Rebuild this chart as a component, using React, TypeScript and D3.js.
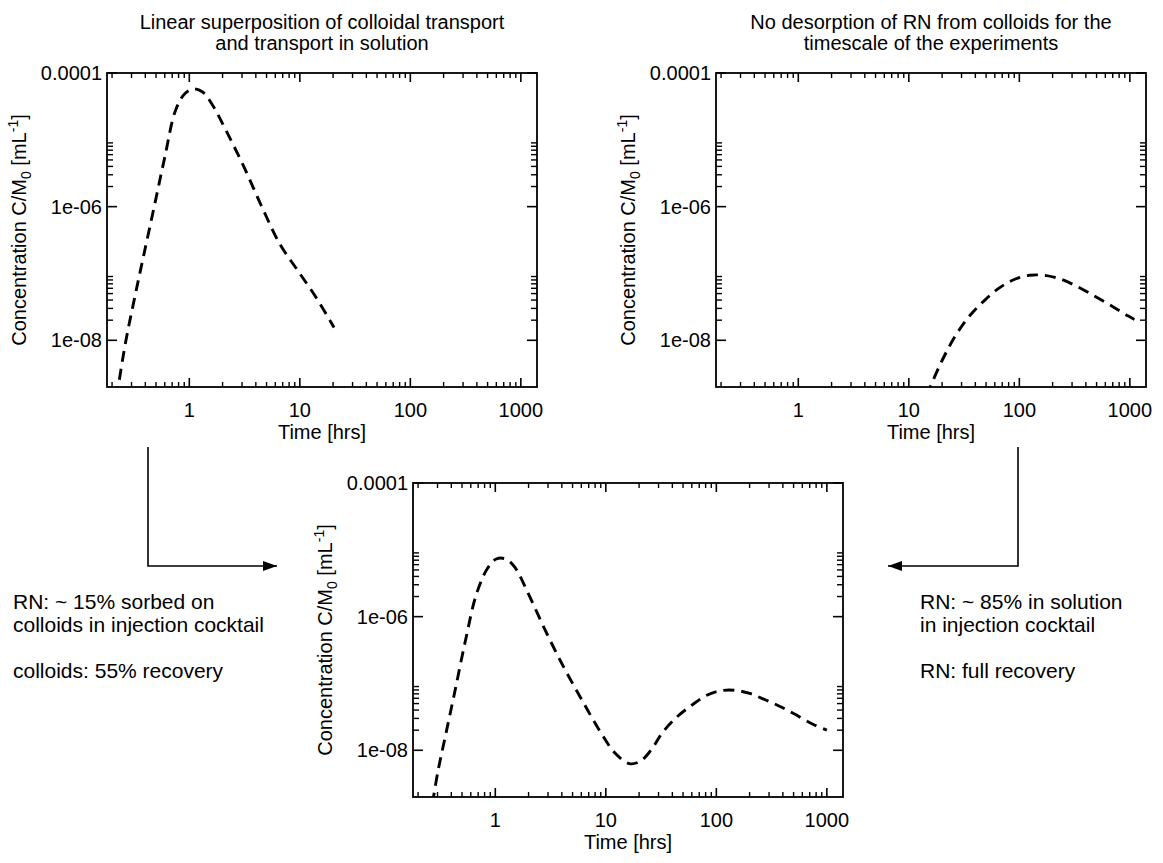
import React from "react";
import * as d3 from "d3";

// ---------- data ----------
const xMajorTicks = [1, 10, 100, 1000];
const xTickLabels = ["1", "10", "100", "1000"];
const yMajorTicks = [1e-4, 1e-6, 1e-8];
const yTickLabels = ["0.0001", "1e-06", "1e-08"];
const minorMultipliers = [2, 3, 4, 5, 6, 7, 8, 9];
const xMinorBases = [0.1, 1, 10, 100];
const yMinorBases = [1e-8, 1e-6];

// colloidal transport (top-left)
const colloidTime = [0.22, 0.263, 0.318, 0.383, 0.48, 0.6, 0.75, 0.91, 1.09, 1.32, 1.59, 2.15, 3.13, 4.55, 6.6, 9.6, 14, 20.4];
const colloidConc = [1.4e-9, 8.7e-9, 4.1e-8, 1.74e-7, 9.8e-7, 5.5e-6, 2.75e-5, 4.9e-5, 5.8e-5, 5.2e-5, 3.5e-5, 1.38e-5, 3.9e-6, 9.8e-7, 2.75e-7, 1.1e-7, 4.4e-8, 1.55e-8];

// transport in solution (top-right)
const solutionTime = [14.5, 19.9, 26.9, 36.5, 49.6, 67, 91, 124, 168, 228, 309, 420, 569, 771, 970, 1100];
const solutionConc = [1.5e-9, 4.9e-9, 1.23e-8, 2.45e-8, 4.1e-8, 6.2e-8, 8.2e-8, 9.4e-8, 9.4e-8, 8.4e-8, 6.8e-8, 5.2e-8, 3.9e-8, 2.9e-8, 2.3e-8, 2.05e-8];

// superposition (bottom)
const sumTime = [0.27, 0.303, 0.353, 0.427, 0.537, 0.673, 0.846, 1.02, 1.24, 1.5, 1.95, 2.85, 4.17, 6.1, 8.9, 12.1, 16.4, 20.6, 25.8, 32.4, 44, 59.7, 81, 110, 148, 200, 273, 369, 500, 732, 1000];
const sumConc = [1.6e-9, 4.9e-9, 1.62e-8, 7.1e-8, 4.4e-7, 2.14e-6, 5.2e-6, 7.3e-6, 7.3e-6, 5.5e-6, 2.37e-6, 6.1e-7, 1.74e-7, 5.6e-8, 1.9e-8, 9.1e-9, 6.3e-9, 6.9e-9, 1.02e-8, 1.82e-8, 3.16e-8, 4.7e-8, 6.6e-8, 7.8e-8, 7.9e-8, 7.1e-8, 5.75e-8, 4.6e-8, 3.55e-8, 2.5e-8, 2.0e-8];

const panelTitles = [
  ["Linear superposition of colloidal transport", "and transport in solution"],
  ["No desorption of RN from colloids for the", "timescale of the experiments"],
  [] as string[],
];
const leftNotes = ["RN: ~ 15% sorbed on", "colloids in injection cocktail", "", "colloids: 55% recovery"];
const rightNotes = ["RN: ~ 85% in solution", "in injection cocktail", "", "RN: full recovery"];

// ---------- layout ----------
const W = 1163;
const H = 863;
const PW = 430;
const PH = 314;
const xDomain = [0.18, 1400];
const yDomain = [2e-9, 1e-4];
const FONT = "'Liberation Sans', Arial, Helvetica, sans-serif";
const FS = 20;

type PanelProps = { id: string; left: number; top: number; title: string[]; time: number[]; conc: number[] };

function Panel({ id, left, top, title, time, conc }: PanelProps) {
  const x = d3.scaleLog().domain(xDomain).range([left, left + PW]);
  const y = d3.scaleLog().domain(yDomain).range([top + PH, top]);
  const pts = time.map((t, i) => [t, conc[i]] as [number, number]);
  const line = d3
    .line<[number, number]>()
    .x((d) => x(d[0]))
    .y((d) => y(d[1]))
    .curve(d3.curveCatmullRom.alpha(0.5));
  const xMinor = xMinorBases
    .flatMap((b) => minorMultipliers.map((m) => b * m))
    .filter((v) => v > xDomain[0] && v < xDomain[1]);
  const yMinor = yMinorBases
    .flatMap((b) => minorMultipliers.map((m) => b * m))
    .filter((v) => v > yDomain[0] && v < yDomain[1]);
  const bottom = top + PH;
  const right = left + PW;
  return (
    <g>
      <defs>
        <clipPath id={`clip-${id}`}>
          <rect x={left} y={top} width={PW} height={PH} />
        </clipPath>
      </defs>
      {title.map((t, i) => (
        <text key={i} x={left + PW / 2} y={top - 44 + i * 21} textAnchor="middle" fontSize={FS} fontFamily={FONT}>
          {t}
        </text>
      ))}
      {xMinor.map((v, i) => (
        <g key={`xm${i}`} stroke="#000" strokeWidth={1.4}>
          <line x1={x(v)} x2={x(v)} y1={bottom} y2={bottom - 5} />
          <line x1={x(v)} x2={x(v)} y1={top} y2={top + 5} />
        </g>
      ))}
      {xMajorTicks.map((v, i) => (
        <g key={`xM${i}`}>
          <line x1={x(v)} x2={x(v)} y1={bottom} y2={bottom - 9} stroke="#000" strokeWidth={1.6} />
          <line x1={x(v)} x2={x(v)} y1={top} y2={top + 9} stroke="#000" strokeWidth={1.6} />
          <text x={x(v)} y={bottom + 30} textAnchor="middle" fontSize={FS} fontFamily={FONT}>
            {xTickLabels[i]}
          </text>
        </g>
      ))}
      {yMinor.map((v, i) => (
        <g key={`ym${i}`} stroke="#000" strokeWidth={1.4}>
          <line x1={left} x2={left + 6} y1={y(v)} y2={y(v)} />
          <line x1={right} x2={right - 6} y1={y(v)} y2={y(v)} />
        </g>
      ))}
      {yMajorTicks.map((v, i) => (
        <g key={`yM${i}`}>
          <line x1={left} x2={left + 10} y1={y(v)} y2={y(v)} stroke="#000" strokeWidth={1.6} />
          <line x1={right} x2={right - 10} y1={y(v)} y2={y(v)} stroke="#000" strokeWidth={1.6} />
          <text x={left - 5} y={y(v) + 7} textAnchor="end" fontSize={FS} fontFamily={FONT}>
            {yTickLabels[i]}
          </text>
        </g>
      ))}
      <rect x={left} y={top} width={PW} height={PH} fill="none" stroke="#000" strokeWidth={1.8} />
      <path
        d={line(pts) || ""}
        fill="none"
        stroke="#000"
        strokeWidth={2.9}
        strokeDasharray="11,7"
        clipPath={`url(#clip-${id})`}
      />
      <text x={left + PW / 2} y={bottom + 52} textAnchor="middle" fontSize={FS} fontFamily={FONT}>
        Time [hrs]
      </text>
      <text
        transform={`translate(${left - 81},${top + PH / 2}) rotate(-90)`}
        textAnchor="middle"
        fontSize={FS}
        fontFamily={FONT}
      >
        Concentration C/M
        <tspan fontSize={14} dy={5}>0</tspan>
        <tspan dy={-5}> [mL</tspan>
        <tspan fontSize={14} dy={-8}>-1</tspan>
        <tspan dy={8}>]</tspan>
      </text>
    </g>
  );
}

export default function App() {
  return (
    <svg
      width={W}
      height={H}
      style={{ position: "absolute", left: 0, top: 0, background: "#fff" }}
      xmlns="http://www.w3.org/2000/svg"
    >
      <defs>
        <marker id="arrow" viewBox="0 0 14 10" refX={14} refY={5} markerWidth={14} markerHeight={10} markerUnits="userSpaceOnUse" orient="auto">
          <path d="M0,0 L14,5 L0,10 z" fill="#000" />
        </marker>
      </defs>
      <rect width={W} height={H} fill="#fff" />
      <Panel id="a" left={107} top={73} title={panelTitles[0]} time={colloidTime} conc={colloidConc} />
      <Panel id="b" left={716} top={73} title={panelTitles[1]} time={solutionTime} conc={solutionConc} />
      <Panel id="c" left={413} top={483} title={panelTitles[2]} time={sumTime} conc={sumConc} />

      <polyline points="148,447 148,566 277,566" fill="none" stroke="#000" strokeWidth={1.6} markerEnd="url(#arrow)" />
      <polyline points="1018,447 1018,566 888,566" fill="none" stroke="#000" strokeWidth={1.6} markerEnd="url(#arrow)" />

      {leftNotes.map((t, i) => (
        <text key={`l${i}`} x={13} y={609 + i * 23} fontSize={21} fontFamily={FONT}>
          {t}
        </text>
      ))}
      {rightNotes.map((t, i) => (
        <text key={`r${i}`} x={920} y={609 + i * 23} fontSize={21} fontFamily={FONT}>
          {t}
        </text>
      ))}
    </svg>
  );
}
